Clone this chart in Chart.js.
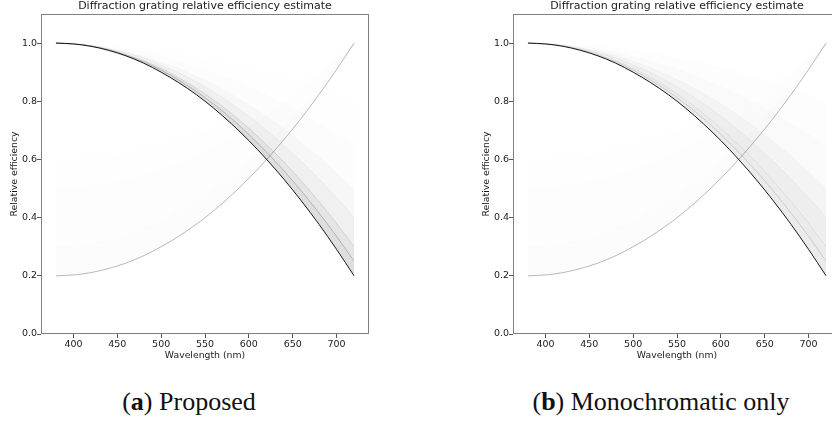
<!DOCTYPE html>
<html>
<head>
<meta charset="utf-8">
<script src="https://cdn.jsdelivr.net/npm/chart.js@4.4.1/dist/chart.umd.min.js"></script>
<style>
  body { margin: 0; width: 832px; height: 423px; overflow: hidden; background: #fff; position: relative; }
  .panel { position: absolute; top: 0; width: 400px; height: 370px; }
  .cap { position: absolute; top: 389px; width: 400px; text-align: center; font-family: "Liberation Serif", "DejaVu Serif", serif; font-size: 26px; line-height: 26px; color: #111; }
</style>
</head>
<body>
<div class="panel" style="left:0"><canvas id="chartA" width="400" height="370"></canvas></div>
<div class="panel" style="left:472px"><canvas id="chartB" width="400" height="370"></canvas></div>
<div class="cap" style="left:-11px">(<b>a</b>) Proposed</div>
<div class="cap" style="left:461px">(<b>b</b>) Monochromatic only</div>
<script>
// wavelength samples (nm)
const wavelengths = [380, 400, 420, 440, 460, 480, 500, 520, 540, 560, 580, 600, 620, 640, 660, 680, 700, 720];

// main curves
const descMain = [1.000, 0.997, 0.989, 0.975, 0.956, 0.931, 0.900, 0.864, 0.823, 0.776, 0.723, 0.665, 0.601, 0.532, 0.457, 0.377, 0.291, 0.200];
const ascMain  = [0.200, 0.203, 0.211, 0.225, 0.244, 0.269, 0.300, 0.336, 0.377, 0.424, 0.477, 0.535, 0.599, 0.668, 0.743, 0.823, 0.909, 1.000];

// faint estimates spreading from the descending curve
const desc25 = [1.000, 0.997, 0.990, 0.977, 0.958, 0.935, 0.907, 0.873, 0.834, 0.790, 0.741, 0.686, 0.626, 0.561, 0.491, 0.416, 0.336, 0.250];
const desc30 = [1.000, 0.998, 0.990, 0.978, 0.961, 0.939, 0.913, 0.881, 0.845, 0.804, 0.758, 0.707, 0.651, 0.591, 0.525, 0.455, 0.380, 0.300];
const desc40 = [1.000, 0.998, 0.992, 0.981, 0.967, 0.948, 0.925, 0.898, 0.867, 0.832, 0.792, 0.749, 0.701, 0.649, 0.593, 0.533, 0.469, 0.400];
const desc50 = [1.000, 0.998, 0.993, 0.984, 0.972, 0.957, 0.938, 0.915, 0.889, 0.860, 0.827, 0.791, 0.751, 0.708, 0.661, 0.611, 0.557, 0.500];
const desc65 = [1.000, 0.999, 0.995, 0.989, 0.981, 0.970, 0.956, 0.941, 0.922, 0.902, 0.879, 0.853, 0.826, 0.795, 0.763, 0.728, 0.690, 0.650];
const desc80 = [1.000, 0.999, 0.997, 0.994, 0.989, 0.983, 0.975, 0.966, 0.956, 0.944, 0.931, 0.916, 0.900, 0.883, 0.864, 0.844, 0.823, 0.800];

// faint estimates converging on the ascending curve
const asc30 = [0.300, 0.302, 0.310, 0.322, 0.339, 0.361, 0.387, 0.419, 0.455, 0.496, 0.542, 0.593, 0.649, 0.709, 0.775, 0.845, 0.920, 1.000];
const asc40 = [0.400, 0.402, 0.408, 0.419, 0.433, 0.452, 0.475, 0.502, 0.533, 0.568, 0.608, 0.651, 0.699, 0.751, 0.807, 0.867, 0.931, 1.000];
const asc50 = [0.500, 0.502, 0.507, 0.516, 0.528, 0.543, 0.562, 0.585, 0.611, 0.640, 0.673, 0.709, 0.749, 0.792, 0.839, 0.889, 0.943, 1.000];
const asc60 = [0.600, 0.601, 0.606, 0.612, 0.622, 0.635, 0.650, 0.668, 0.689, 0.712, 0.738, 0.767, 0.799, 0.834, 0.871, 0.911, 0.954, 1.000];

const xTicks = [400, 450, 500, 550, 600, 650, 700];
const yTicks = [0.0, 0.2, 0.4, 0.6, 0.8, 1.0];
const titleText = 'Diffraction grating relative efficiency estimate';

const FONT = '"DejaVu Sans", sans-serif';

function series(vals) {
    return wavelengths.map((w, i) => ({ x: w, y: vals[i] }));
}

function line(vals, alpha, fillAlpha, width) {
    return {
        data: series(vals),
        borderColor: `rgba(0,0,0,${alpha})`,
        borderWidth: width || 1,
        pointRadius: 0,
        cubicInterpolationMode: 'monotone',
        fill: fillAlpha ? '-1' : false,
        backgroundColor: fillAlpha ? `rgba(0,0,0,${fillAlpha})` : 'rgba(0,0,0,0)'
    };
}

// box round the plot area, and the title centred over it
const frame = {
    id: 'frame',
    afterDraw(chart) {
        const { ctx, chartArea: a } = chart;
        ctx.save();
        ctx.strokeStyle = '#808080';
        ctx.lineWidth = 1;
        ctx.strokeRect(Math.round(a.left) + 0.5, Math.round(a.top) + 0.5,
            Math.round(a.right - a.left) - 1, Math.round(a.bottom - a.top) - 1);
        ctx.fillStyle = '#222';
        ctx.font = '11px ' + FONT;
        ctx.textAlign = 'center';
        ctx.textBaseline = 'middle';
        ctx.fillText(titleText, (a.left + a.right) / 2, 6.5);
        ctx.restore();
    }
};

function makeChart(id, datasets) {
    new Chart(document.getElementById(id), {
        type: 'line',
        data: { datasets },
        plugins: [frame],
        options: {
            responsive: false,
            animation: false,
            layout: { padding: { left: 0, right: 31, top: 14, bottom: 0 } },
            plugins: {
                legend: { display: false },
                tooltip: { enabled: false },
                title: { display: false }
            },
            scales: {
                x: {
                    type: 'linear',
                    min: 363, max: 737,
                    afterFit(s) { s.height = 36; },
                    afterBuildTicks(s) { s.ticks = xTicks.map(v => ({ value: v })); },
                    grid: { drawOnChartArea: false, tickLength: 4, color: '#555' },
                    border: { display: false },
                    ticks: { color: '#1a1a1a', padding: 1, maxRotation: 0, font: { family: FONT, size: 9.5 } },
                    title: { display: true, text: 'Wavelength (nm)', color: '#1a1a1a',
                        font: { family: FONT, size: 9.3 }, padding: { top: 0, bottom: 9 } }
                },
                y: {
                    min: 0, max: 1.1,
                    afterFit(s) { s.width = 41; },
                    afterBuildTicks(s) { s.ticks = yTicks.map(v => ({ value: v })); },
                    grid: { drawOnChartArea: false, tickLength: 4, color: '#555' },
                    border: { display: false },
                    ticks: { color: '#1a1a1a', padding: 0, font: { family: FONT, size: 9.5 },
                        callback: v => v.toFixed(1) },
                    title: { display: true, text: 'Relative efficiency', color: '#1a1a1a',
                        font: { family: FONT, size: 9.3 }, padding: { top: 9, bottom: 0 } }
                }
            }
        }
    });
}

// (a) proposed
makeChart('chartA', [
    line(descMain, 0.9),
    line(desc25, 0.22, 0.13),
    line(desc30, 0.12, 0.10),
    line(desc40, 0.05, 0.06),
    line(desc50, 0, 0.03),
    line(desc65, 0, 0.012),
    line(desc80, 0, 0.005),
    line(ascMain, 0.28),
    line(asc30, 0.02, 0.01),
    line(asc40, 0.015, 0.008),
    line(asc50, 0.01, 0.006),
    line(asc60, 0.008, 0.004)
]);

// (b) monochromatic only
makeChart('chartB', [
    line(descMain, 0.9),
    line(desc25, 0.15, 0.08),
    line(desc30, 0.08, 0.08),
    line(desc40, 0.05, 0.065),
    line(desc50, 0.03, 0.045),
    line(desc65, 0, 0.02),
    line(desc80, 0, 0.008),
    line(ascMain, 0.28),
    line(asc30, 0.02, 0.01),
    line(asc40, 0.015, 0.008),
    line(asc50, 0.01, 0.006),
    line(asc60, 0.008, 0.004)
]);
</script>
</body>
</html>
